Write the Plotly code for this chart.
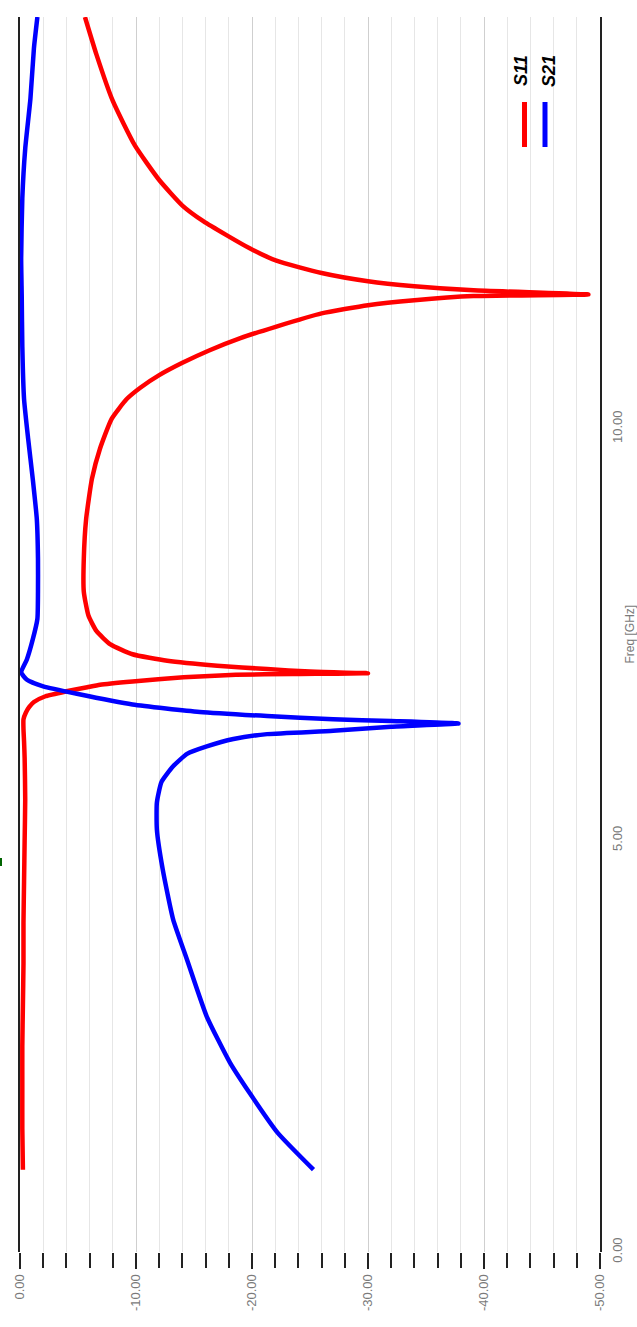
import plotly.graph_objects as go

# Frequency (GHz) and S-parameter magnitude (dB)
s11_freq = [1.0, 1.5, 2.0, 2.5, 3.0, 3.5, 4.0, 4.5, 5.0, 5.5, 6.0, 6.2, 6.35, 6.47,
            6.55, 6.62, 6.68, 6.75, 6.81, 6.86, 6.89, 6.93, 6.98, 7.01, 7.02, 7.03,
            7.05, 7.08, 7.12, 7.18, 7.26, 7.38, 7.54, 7.73, 8.02, 8.42, 8.9, 9.39,
            9.76, 10.12, 10.36, 10.5, 10.65, 10.8, 10.95, 11.1, 11.24, 11.40, 11.50, 11.56, 11.61,
            11.63, 11.68, 11.73, 11.79, 11.89, 12.04, 12.19, 12.35, 12.52, 12.71,
            13.02, 13.44, 13.98, 14.54, 15.0]
s11_db = [-0.25, -0.2, -0.2, -0.2, -0.25, -0.3, -0.3, -0.35, -0.4, -0.45, -0.4, -0.35, -0.3, -0.3,
          -0.5, -0.8, -1.2, -2.2, -4.0, -5.8, -6.9, -9.7, -14.1, -18.6, -23.5, -30.0,
          -25.0, -21.3, -17.0, -12.7, -9.7, -7.8, -6.6, -5.9, -5.5, -5.5, -5.7, -6.2,
          -6.9, -7.9, -9.2, -10.4, -12.0, -14.0, -16.3, -19.0, -22.1, -26.0, -30.0, -34.0, -39.1,
          -49.0, -39.1, -34.0, -30.0, -26.0, -22.1, -19.8, -17.8, -15.8, -14.0,
          -12.0, -9.9, -8.0, -6.6, -5.6]

s21_freq = [1.0, 1.45, 1.93, 2.30, 2.86, 3.55, 4.04, 4.65, 5.13, 5.46, 5.71, 5.90, 6.05,
            6.14, 6.23, 6.29, 6.33, 6.38, 6.42, 6.45, 6.47, 6.51, 6.56, 6.65, 6.78, 6.87,
            6.95, 7.04, 7.2, 7.44, 7.69, 8.02, 8.42, 8.9, 9.39, 9.88, 10.36, 11.0, 11.6,
            12.07, 12.8, 13.4, 14.01, 14.62, 15.0]
s21_db = [-25.3, -22.2, -19.8, -18.1, -16.1, -14.4, -13.2, -12.3, -11.8, -11.8, -12.2, -13.2, -14.4,
          -16.1, -18.4, -21.3, -27.0, -32.0, -37.8, -32.0, -27.0, -21.3, -15.5, -9.7, -4.9, -2.0,
          -0.6, -0.1, -0.6, -1.1, -1.5, -1.55, -1.55, -1.45, -1.1, -0.7, -0.35, -0.2, -0.15,
          -0.1, -0.2, -0.45, -0.9, -1.2, -1.5]

db_ticks = [0, -10, -20, -30, -40, -50]
freq_ticks = [0, 5, 10, 15]

W, H = 637, 1327
L, R, T, B = 20, 37, 17, 75

fig = go.Figure()
fig.add_trace(go.Scatter(x=s11_db, y=s11_freq, mode="lines", name="S11",
                         line=dict(color="#ff0000", width=4.5, shape="spline", smoothing=0.5)))
fig.add_trace(go.Scatter(x=s21_db, y=s21_freq, mode="lines", name="S21",
                         line=dict(color="#0000ff", width=4.5, shape="spline", smoothing=0.5)))

grey = "#7a7a7a"
fig.update_layout(
    width=W, height=H,
    margin=dict(l=L, r=R, t=T, b=B),
    paper_bgcolor="white", plot_bgcolor="white",
    showlegend=False,
    font=dict(family="Liberation Sans, Arial, sans-serif", size=14, color=grey),
    xaxis=dict(
        range=[0, -50], tickvals=db_ticks, ticktext=[f"{v:.2f}" for v in db_ticks],
        tickangle=-90, ticks="outside", ticklen=16, tickwidth=2, tickcolor="#222",
        showgrid=True, gridcolor="#cfcfcf", gridwidth=1,
        minor=dict(dtick=2, tick0=0, ticks="outside", ticklen=15, tickwidth=2,
                   tickcolor="#222", showgrid=True, gridcolor="#e6e6e6", gridwidth=1),
        zeroline=False, showline=False,
        tickfont=dict(size=13, color=grey),
    ),
    yaxis=dict(
        range=[0, 15], side="right", tickvals=freq_ticks,
        ticktext=[f"{v:.2f}" for v in freq_ticks], tickangle=-90,
        ticks="", showgrid=False, zeroline=False,
        showline=True, mirror=True, linecolor="#222", linewidth=2,
        tickfont=dict(size=13, color=grey), ticklabelstandoff=4,
    ),
)

pw = W - L - R
ph = H - T - B
def px(xp):
    return (xp - L) / pw
def py(yp):
    return 1 - (yp - T) / ph

# Axis title (rotated)
fig.add_annotation(text="Freq [GHz]", xref="paper", yref="paper",
                   x=px(629), y=0.5, textangle=-90, showarrow=False,
                   font=dict(size=12, color=grey), xanchor="center", yanchor="middle")

# Custom rotated legend
for name, color, tx, lx in [("S11", "#ff0000", 521, 524.5), ("S21", "#0000ff", 549, 545)]:
    fig.add_annotation(text=f"<b><i>{name}</i></b>", xref="paper", yref="paper",
                       x=px(tx), y=py(71), textangle=-90, showarrow=False,
                       font=dict(size=18, color="#000"), xanchor="center", yanchor="middle")
    fig.add_shape(type="line", xref="paper", yref="paper",
                  x0=px(lx), x1=px(lx), y0=py(102), y1=py(147),
                  line=dict(color=color, width=5))

# small green mark at the left edge
fig.add_shape(type="rect", xref="paper", yref="paper",
              x0=px(0), x1=px(2), y0=py(866), y1=py(858),
              line=dict(width=0), fillcolor="#006400")

fig.write_html("out.html")
